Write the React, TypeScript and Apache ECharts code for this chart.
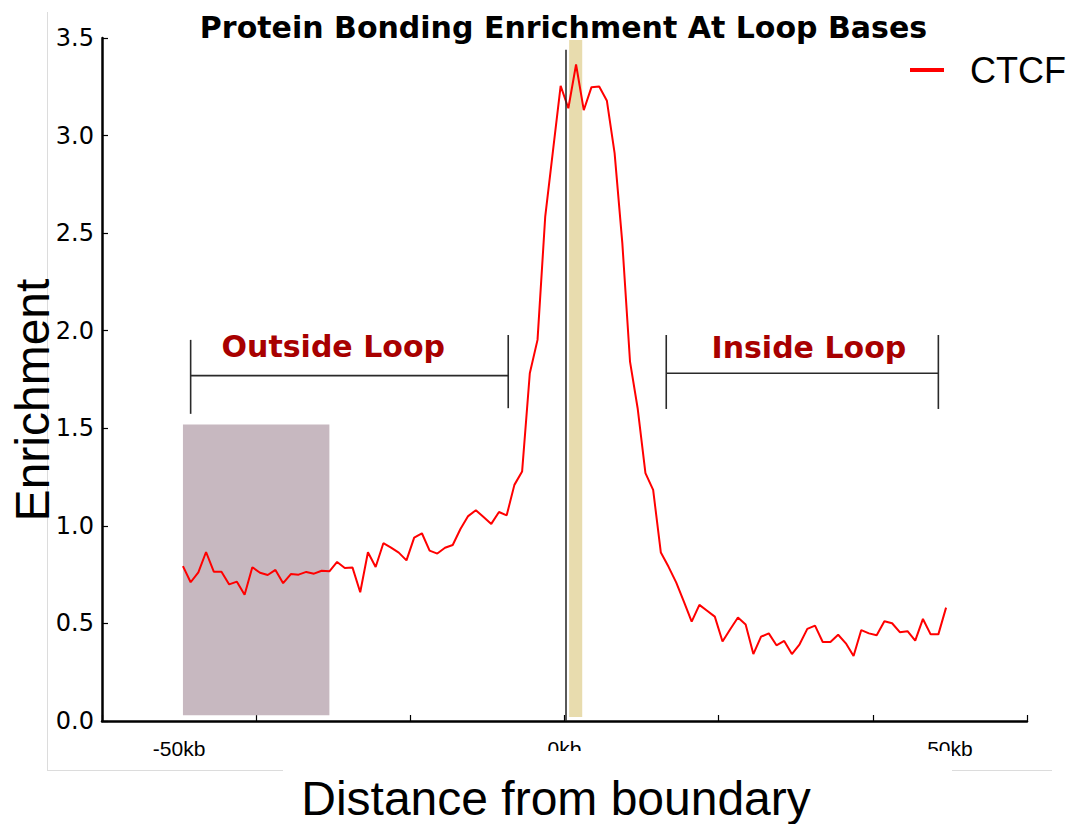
import { useEffect, useRef } from "react";
import * as echarts from "echarts";

// CTCF enrichment in 1 kb bins around the loop boundary (bin centres -49.5 … +49.5 kb)
const SERIES_NAME = "CTCF";
const FIRST_BIN_KB = -49.5;
const BIN_KB = 1;
const enrichment = [
  0.794, 0.711, 0.762, 0.866, 0.765, 0.765, 0.7, 0.714, 0.647, 0.788,
  0.76, 0.748, 0.774, 0.706, 0.753, 0.75, 0.764, 0.755, 0.77, 0.767,
  0.815, 0.784, 0.786, 0.66, 0.865, 0.789, 0.911, 0.888, 0.863, 0.823,
  0.94, 0.962, 0.873, 0.858, 0.888, 0.902, 0.984, 1.05, 1.08, 1.045,
  1.01, 1.071, 1.054, 1.21, 1.278, 1.782, 1.953, 2.585, 2.92, 3.255,
  3.14, 3.364, 3.13, 3.248, 3.251, 3.178, 2.91, 2.45, 1.842, 1.6,
  1.27, 1.184, 0.863, 0.79, 0.709, 0.611, 0.509, 0.595, 0.565, 0.535,
  0.407, 0.47, 0.53, 0.495, 0.343, 0.432, 0.449, 0.388, 0.41, 0.343,
  0.393, 0.472, 0.489, 0.405, 0.405, 0.442, 0.398, 0.333, 0.466, 0.449,
  0.439, 0.511, 0.501, 0.455, 0.46, 0.412, 0.523, 0.444, 0.444, 0.581,
];

// Axis labelling
const xLabelValues = [-50, 0, 50];
const xLabelTexts = ["-50kb", "0kb", "50kb"];
const X_MIN = -60;
const X_MAX = 60;
const X_TICK = 20;
const Y_MIN = 0;
const Y_MAX = 3.5;
const Y_TICK = 0.5;

// Shaded regions: [x0, x1, y0, y1]
const backgroundWindow = [-49.5, -30.5, 0.03, 1.52];
const peakBand = [0.6, 2.3, 0.02, 3.49];
const boundaryLine = [0.2, 0, 3.44];

const TITLE = "Protein Bonding Enrichment At Loop Bases";
const X_TITLE = "Distance from boundary";
const Y_TITLE = "Enrichment";
const OUTSIDE_LABEL = "Outside Loop";
const INSIDE_LABEL = "Inside Loop";

const SANS = "'Liberation Sans', Arial, sans-serif";
const DEJAVU = "'DejaVu Sans', sans-serif";
const LABEL_RED = "#a80000";
const BRACKET = "#2a2a2a";

export default function App() {
  const ref = useRef<HTMLDivElement>(null);

  useEffect(() => {
    const el = ref.current;
    if (!el) return;
    const chart = echarts.init(el, undefined, { renderer: "svg" });

    const points = enrichment.map((v, i) => [FIRST_BIN_KB + i * BIN_KB, v]);

    chart.setOption({
      animation: false,
      grid: { left: 102, right: 43, top: 38, bottom: 103 },
      legend: {
        data: [SERIES_NAME],
        left: 910,
        top: 52,
        padding: 0,
        icon: "rect",
        itemWidth: 34,
        itemHeight: 4,
        selectedMode: false,
        textStyle: {
          fontFamily: SANS,
          fontSize: 36,
          color: "#000",
          padding: [0, 0, 14, 21],
        },
      },
      xAxis: {
        type: "value",
        min: X_MIN,
        max: X_MAX,
        interval: X_TICK,
        splitLine: { show: false },
        axisLine: { show: true, onZero: false, lineStyle: { color: "#000", width: 2.5 } },
        axisTick: { show: true, inside: true, length: 6, lineStyle: { color: "#000", width: 1.2 } },
        axisLabel: {
          customValues: xLabelValues,
          formatter: (v: number) => xLabelTexts[xLabelValues.indexOf(v)] ?? "",
          fontFamily: SANS,
          fontSize: 21,
          color: "#000",
          margin: 17,
        },
      },
      yAxis: {
        type: "value",
        min: Y_MIN,
        max: Y_MAX,
        interval: Y_TICK,
        splitLine: { show: false },
        axisLine: { show: true, onZero: false, lineStyle: { color: "#000", width: 2.5 } },
        axisTick: { show: true, inside: true, length: 6, lineStyle: { color: "#000", width: 1.2 } },
        axisLabel: {
          formatter: (v: number) => v.toFixed(1),
          fontFamily: DEJAVU,
          fontSize: 24,
          color: "#000",
          margin: 8,
        },
      },
      series: [
        {
          type: "line",
          name: "regions",
          data: [],
          silent: true,
          z: 1,
          markArea: {
            silent: true,
            label: { show: false },
            data: [
              [
                { coord: [backgroundWindow[0], backgroundWindow[3]], itemStyle: { color: "#c7b8c0" } },
                { coord: [backgroundWindow[1], backgroundWindow[2]] },
              ],
              [
                { coord: [peakBand[0], peakBand[3]], itemStyle: { color: "#e8dcae" } },
                { coord: [peakBand[1], peakBand[2]] },
              ],
            ],
          },
          markLine: {
            silent: true,
            symbol: "none",
            label: { show: false },
            lineStyle: { color: "#222", width: 1.5, type: "solid" },
            data: [
              [
                { coord: [boundaryLine[0], boundaryLine[1]] },
                { coord: [boundaryLine[0], boundaryLine[2]] },
              ],
            ],
          },
        },
        {
          type: "line",
          name: SERIES_NAME,
          data: points,
          showSymbol: false,
          z: 3,
          itemStyle: { color: "#ff0000" },
          lineStyle: { color: "#ff0000", width: 2 },
        },
      ],
    });

    const px = (x: number, y: number) =>
      chart.convertToPixel({ gridIndex: 0 }, [x, y]) as number[];

    const bracket = (x0: number, x1: number, yMid: number, yTop0: number, yBot0: number, yTop1: number, yBot1: number) => {
      const a = px(x0, yMid);
      const b = px(x1, yMid);
      const lt = px(x0, yTop0);
      const lb = px(x0, yBot0);
      const rt = px(x1, yTop1);
      const rb = px(x1, yBot1);
      const style = { stroke: BRACKET, lineWidth: 1.6 };
      return [
        { type: "line", shape: { x1: a[0], y1: a[1], x2: b[0], y2: b[1] }, style },
        { type: "line", shape: { x1: lt[0], y1: lt[1], x2: lb[0], y2: lb[1] }, style },
        { type: "line", shape: { x1: rt[0], y1: rt[1], x2: rb[0], y2: rb[1] }, style },
      ];
    };

    const outsideText = px(-30.0, 1.917);
    const insideText = px(31.7, 1.915);

    chart.setOption({
      graphic: [
        // faint figure frame
        { type: "line", z: 0, shape: { x1: 47.5, y1: 12, x2: 47.5, y2: 770 }, style: { stroke: "#dcdcdc", lineWidth: 1 } },
        { type: "line", z: 0, shape: { x1: 47, y1: 770.5, x2: 1052, y2: 770.5 }, style: { stroke: "#dcdcdc", lineWidth: 1 } },
        // x-axis title with its white backing box
        { type: "rect", z: 100, shape: { x: 283, y: 751, width: 669, height: 73 }, style: { fill: "#fff" } },
        {
          type: "text",
          z: 101,
          x: 556,
          y: 798.4,
          style: {
            text: X_TITLE,
            fontFamily: SANS,
            fontSize: 48,
            fill: "#000",
            textAlign: "center",
            textVerticalAlign: "middle",
          },
        },
        {
          type: "text",
          z: 101,
          x: 32,
          y: 400,
          rotation: Math.PI / 2,
          style: {
            text: Y_TITLE,
            fontFamily: SANS,
            fontSize: 48,
            fill: "#000",
            textAlign: "center",
            textVerticalAlign: "middle",
          },
        },
        {
          type: "text",
          z: 101,
          x: 563.5,
          y: 27,
          style: {
            text: TITLE,
            fontFamily: DEJAVU,
            fontWeight: "bold",
            fontSize: 30,
            fill: "#000",
            textAlign: "center",
            textVerticalAlign: "middle",
          },
        },
        ...bracket(-48.5, -7.3, 1.77, 1.953, 1.574, 1.978, 1.603),
        ...bracket(13.2, 48.5, 1.782, 1.978, 1.599, 1.978, 1.599),
        {
          type: "text",
          z: 101,
          x: outsideText[0],
          y: outsideText[1],
          style: {
            text: OUTSIDE_LABEL,
            fontFamily: DEJAVU,
            fontWeight: "bold",
            fontSize: 30,
            fill: LABEL_RED,
            textAlign: "center",
            textVerticalAlign: "middle",
          },
        },
        {
          type: "text",
          z: 101,
          x: insideText[0],
          y: insideText[1],
          style: {
            text: INSIDE_LABEL,
            fontFamily: DEJAVU,
            fontWeight: "bold",
            fontSize: 30,
            fill: LABEL_RED,
            textAlign: "center",
            textVerticalAlign: "middle",
          },
        },
      ],
    });

    return () => chart.dispose();
  }, []);

  return (
    <div
      ref={ref}
      style={{ position: "fixed", left: 0, top: 0, width: 1070, height: 824, background: "#fff" }}
    />
  );
}
